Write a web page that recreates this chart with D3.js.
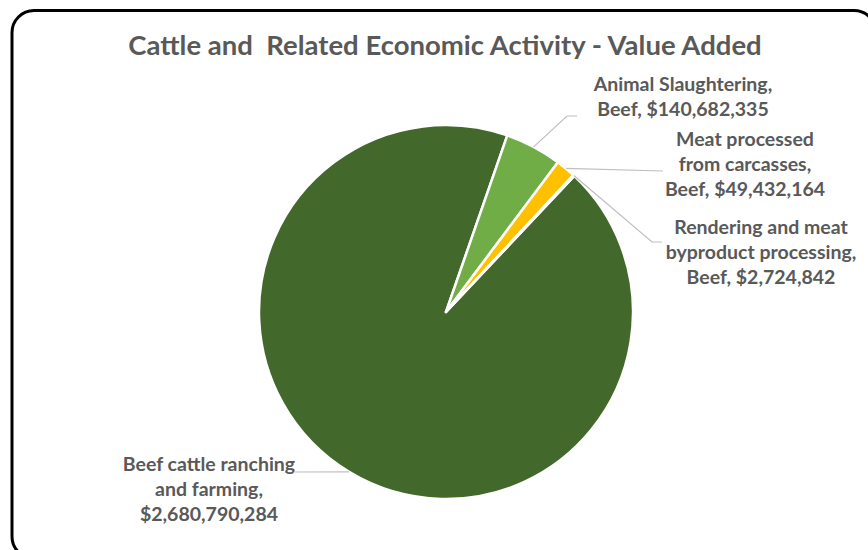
<!DOCTYPE html>
<html>
<head>
<meta charset="utf-8">
<script src="https://cdn.jsdelivr.net/npm/d3@7"></script>
<style>
  html, body { margin: 0; padding: 0; background: #fff; }
  svg { display: block; }
  text { font-family: Lato, "Open Sans", sans-serif; font-weight: bold; fill: #595959; }
</style>
</head>
<body>
<svg id="chart" width="868" height="550"></svg>
<script>
// Value added by activity (USD)
const categories = [
  "Beef cattle ranching and farming",
  "Animal Slaughtering, Beef",
  "Meat processed from carcasses, Beef",
  "Rendering and meat byproduct processing, Beef"
];
const values = [2680790284, 140682335, 49432164, 2724842];
const labelLines = [
  ["Beef cattle ranching", "and farming,", "$2,680,790,284"],
  ["Animal Slaughtering,", "Beef, $140,682,335"],
  ["Meat processed", "from carcasses,", "Beef, $49,432,164"],
  ["Rendering and meat", "byproduct processing,", "Beef, $2,724,842"]
];
const colors = ["#43682b", "#70ad47", "#ffc000", "#ffc000"];
const title = "Cattle and  Related Economic Activity - Value Added";

const svg = d3.select("#chart");

// outer frame
svg.append("rect")
  .attr("x", 12).attr("y", 10.5)
  .attr("width", 864).attr("height", 548)
  .attr("rx", 22).attr("ry", 22)
  .attr("fill", "#fff")
  .attr("stroke", "#000").attr("stroke-width", 3);

svg.append("text")
  .attr("x", 445).attr("y", 55)
  .attr("text-anchor", "middle")
  .style("font-size", "27.5px")
  .style("white-space", "pre")
  .text(title);

const cx = 446, cy = 312, R = 187;
const startDeg = 43.3;
const pie = d3.pie().sort(null).value(d => d)
  .startAngle(startDeg * Math.PI / 180)
  .endAngle(startDeg * Math.PI / 180 + 2 * Math.PI);
const arcs = pie(values);
const arc = d3.arc().innerRadius(0).outerRadius(R);

const g = svg.append("g").attr("transform", `translate(${cx},${cy})`);
g.selectAll("path.slice").data(arcs).enter().append("path")
  .attr("class", "slice")
  .attr("d", arc)
  .attr("fill", (d, i) => colors[i])
  .attr("stroke", "#fff").attr("stroke-width", 2.5)
  .attr("stroke-linejoin", "round");

// label layout: text centre x, first line y, leader elbow and end
const labelLayout = [
  { x: 209, y: 471, pts: [[295, 472]] },
  { x: 683, y: 91, pts: [[567, 116], [577, 116]] },
  { x: 745, y: 146, pts: [[663, 171]] },
  { x: 761, y: 234, pts: [[652, 242], [662, 242]] }
];
const lineH = 25;

arcs.forEach((a, i) => {
  const mid = (a.startAngle + a.endAngle) / 2;
  const sx = cx + R * Math.sin(mid), sy = cy - R * Math.cos(mid);
  const L = labelLayout[i];
  const pts = [[sx, sy]].concat(L.pts);
  svg.append("path")
    .attr("d", d3.line()(pts))
    .attr("fill", "none")
    .attr("stroke", "#bfbfbf").attr("stroke-width", 1.2);
  const t = svg.append("text")
    .attr("text-anchor", "middle")
    .style("font-size", "19.5px");
  labelLines[i].forEach((s, k) => {
    t.append("tspan").attr("x", L.x).attr("y", L.y + k * lineH).text(s);
  });
});
</script>
</body>
</html>
